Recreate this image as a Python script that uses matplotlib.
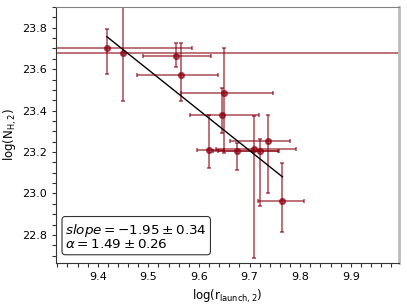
import numpy as np
import matplotlib
matplotlib.use("Agg")
import matplotlib.pyplot as plt
from matplotlib.ticker import MultipleLocator

# data
log_r = [9.418, 9.449, 9.554, 9.564, 9.649, 9.645, 9.619, 9.676, 9.708, 9.720, 9.737, 9.765]
log_nh = [23.700, 23.680, 23.665, 23.573, 23.486, 23.380, 23.210, 23.206, 23.215, 23.206, 23.254, 22.964]
xerr_lo = [0.150, 0.600, 0.065, 0.087, 0.085, 0.062, 0.022, 0.049, 0.075, 0.083, 0.075, 0.049]
xerr_hi = [0.169, 0.600, 0.069, 0.073, 0.098, 0.073, 0.030, 0.083, 0.083, 0.036, 0.042, 0.043]
yerr_lo = [0.122, 0.233, 0.055, 0.126, 0.290, 0.090, 0.086, 0.092, 0.525, 0.266, 0.254, 0.149]
yerr_hi = [0.095, 0.250, 0.062, 0.154, 0.214, 0.130, 0.170, 0.038, 0.160, 0.058, 0.126, 0.184]

slope = -1.95
intercept = 42.122

fig, ax = plt.subplots(figsize=(4.07, 3.05), dpi=100)
fig.subplots_adjust(left=0.137, right=0.98, top=0.977, bottom=0.138)

ax.errorbar(log_r, log_nh, xerr=[xerr_lo, xerr_hi], yerr=[yerr_lo, yerr_hi],
            fmt="o", color="#8b0010", ecolor="#8b0010", ms=4, mew=1.2, mfc="#8b0010",
            elinewidth=1.2, capsize=1.5, alpha=0.65, zorder=2)

xf = np.array([min(log_r), max(log_r)])
ax.plot(xf, intercept + slope * xf, color="k", lw=1, zorder=3)

ax.set_xlim(9.317, 9.995)
ax.set_ylim(22.665, 23.90)
ax.xaxis.set_major_locator(MultipleLocator(0.1))
ax.xaxis.set_minor_locator(MultipleLocator(0.02))
ax.yaxis.set_major_locator(MultipleLocator(0.2))
ax.yaxis.set_minor_locator(MultipleLocator(0.05))
ax.tick_params(which="both", direction="out", labelsize=8, length=3, width=0.8, colors="#333333", labelcolor="k")

ax.set_xlabel(r"log(r$_{\rm launch,2}$)", fontsize=8.5)
ax.set_ylabel(r"log(N$_{\rm H,2}$)", fontsize=8.5, labelpad=2)

ax.spines["top"].set_color("gray")
ax.spines["right"].set_color("#bbbbbb")
ax.spines["right"].set_linewidth(2)
ax.spines["left"].set_color("#333333")
ax.spines["bottom"].set_color("#333333")

ax.text(0.028, 0.045, "$slope = -1.95 \\pm 0.34$\n$\\alpha = 1.49 \\pm 0.26$",
        transform=ax.transAxes, fontsize=9.7, va="bottom", ha="left", linespacing=0.95,
        bbox=dict(boxstyle="round,pad=0.25", fc="white", ec="#333333", lw=0.8))

plt.savefig("out.png", dpi=100)
